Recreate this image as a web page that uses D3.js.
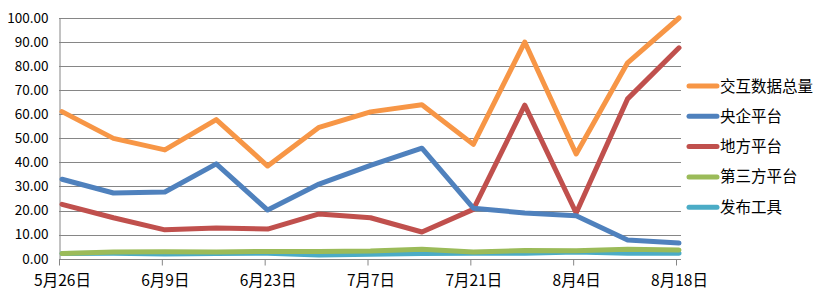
<!DOCTYPE html>
<html>
<head>
<meta charset="utf-8">
<script src="https://cdn.jsdelivr.net/npm/d3@7"></script>
<style>
  body { margin: 0; background: #fff; }
  text { font-family: "Noto Sans CJK SC", "Noto Sans", sans-serif; fill: #000; }
</style>
</head>
<body>
<div id="chart"></div>
<script>
var dates = ["5月26日", "6月2日", "6月9日", "6月16日", "6月23日", "6月30日", "7月7日",
             "7月14日", "7月21日", "7月28日", "8月4日", "8月11日", "8月18日"];
var shownDates = ["5月26日", "6月9日", "6月23日", "7月7日", "7月21日", "8月4日", "8月18日"];
var yTicks = [0, 10, 20, 30, 40, 50, 60, 70, 80, 90, 100];

var names = ["交互数据总量", "央企平台", "地方平台", "第三方平台", "发布工具"];
var colors = ["#F79646", "#4F81BD", "#C0504D", "#9BBB59", "#4BACC6"];

var total    = [61.1, 50.0, 45.2, 57.8, 38.5, 54.6, 61.0, 64.0, 47.5, 90.0, 43.5, 81.4, 100.0];
var central  = [33.0, 27.3, 27.7, 39.4, 20.2, 31.0, 38.8, 45.9, 21.0, 19.0, 17.8, 7.8, 6.5];
var local    = [22.6, 17.0, 12.0, 12.8, 12.3, 18.6, 17.0, 11.1, 20.5, 63.8, 19.0, 66.4, 87.6];
var thirdPty = [2.2, 2.8, 2.9, 2.8, 3.0, 3.0, 3.2, 3.9, 2.8, 3.4, 3.3, 3.9, 3.6];
var release  = [2.2, 2.3, 2.0, 2.2, 2.3, 1.5, 1.8, 2.2, 2.3, 2.3, 2.8, 2.3, 2.3];

var series = [total, central, local, thirdPty, release];

var width = 828, height = 298;
var plot = {left: 59, right: 681, top: 18, bottom: 258.7};

var svg = d3.select("#chart").append("svg")
    .attr("width", width)
    .attr("height", height);

var x = d3.scalePoint()
    .domain(dates)
    .range([62, 679]);

var y = d3.scaleLinear()
    .domain([0, 100])
    .range([plot.bottom, plot.top]);

// gridlines
svg.append("g")
    .selectAll("line")
    .data(yTicks)
    .enter().append("line")
    .attr("x1", plot.left)
    .attr("x2", plot.right)
    .attr("y1", d => Math.round(y(d)) + 0.5)
    .attr("y2", d => Math.round(y(d)) + 0.5)
    .style("stroke", "#868686")
    .style("stroke-width", 1);

// y axis
var yAxis = d3.axisLeft(y).tickValues(yTicks).tickSize(0).tickPadding(11)
    .tickFormat(d3.format(".2f"));
var gy = svg.append("g")
    .attr("transform", "translate(" + (plot.left + 0.5) + ",0)")
    .call(yAxis);
gy.select(".domain").style("stroke", "#868686");
gy.selectAll("text").style("font-size", "13.5px");

// x axis
var xAxis = d3.axisBottom(x).tickValues(shownDates).tickSize(6).tickPadding(9).tickSizeOuter(0);
var gx = svg.append("g")
    .attr("transform", "translate(0," + (Math.round(plot.bottom) + 0.5) + ")")
    .call(xAxis);
gx.select(".domain").attr("d", "M" + plot.left + ",0H" + plot.right).style("stroke", "#868686");
gx.selectAll(".tick line").style("stroke", "#868686").attr("transform", "translate(-3,0)");
gx.selectAll("text").style("font-size", "15.5px");

// lines, drawn back to front
var line = d3.line()
    .x((d, i) => x(dates[i]))
    .y(d => y(d));

var order = [4, 3, 2, 1, 0];
svg.append("g")
    .selectAll("path")
    .data(order)
    .enter().append("path")
    .attr("d", k => line(series[k]))
    .style("fill", "none")
    .style("stroke", k => colors[k])
    .style("stroke-width", 5)
    .style("stroke-linejoin", "round")
    .style("stroke-linecap", "round");

// legend
var legend = svg.append("g")
    .selectAll("g")
    .data(names)
    .enter().append("g")
    .attr("transform", (d, i) => "translate(689," + (86 + i * 30.3) + ")");

legend.append("line")
    .attr("x1", 0)
    .attr("x2", 28)
    .style("stroke", (d, i) => colors[i])
    .style("stroke-width", 5)
    .style("stroke-linecap", "round");

legend.append("text")
    .attr("x", 31)
    .attr("dy", "0.36em")
    .style("font-size", "15.5px")
    .text(d => d);
</script>
</body>
</html>
